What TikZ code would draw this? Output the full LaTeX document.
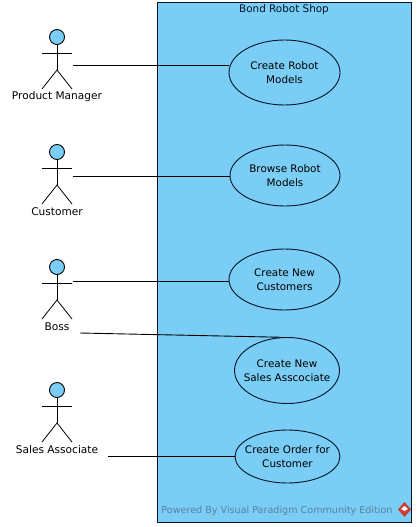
\documentclass[tikz,border=0pt]{standalone}
\usepackage{xcolor}
\usepackage{fontspec}
\setmainfont{DejaVu Sans}
\usetikzlibrary{positioning,shapes.geometric}
\definecolor{shopblue}{RGB}{122,205,245}
\definecolor{shopline}{RGB}{4,20,40}
\definecolor{wmgray}{RGB}{90,130,158}
\definecolor{logored}{RGB}{200,60,50}
\tikzset{
  usecase/.style={draw=shopline, line width=0.9pt, ellipse, fill=shopblue, inner sep=0pt, align=center, font=\fontsize{10.4}{14}\selectfont},
  actorlabel/.style={font=\fontsize{10.6}{12}\selectfont, inner sep=0pt},
  assoc/.style={draw=black, line width=0.9pt},
}
\begin{document}
\begin{tikzpicture}[x=1pt,y=-1pt]
  \useasboundingbox (0,0) rectangle (416,527);
  \fill[white] (0,0) rectangle (416,527);
  \draw[shopline, line width=0.9pt, fill=shopblue] (157.5,2.5) rectangle (411,522);
  \node[inner sep=0pt, font=\fontsize{10.4}{12}\selectfont, text=shopline] (shop) at (284,10) {Bond Robot Shop};
  \node[inner sep=0pt, font=\fontsize{9.6}{12}\selectfont, text=wmgray] (powered) at (277,511) {Powered By Visual Paradigm Community Edition};

  % logo
  \fill[logored] (404.5,502) -- (411,509.5) -- (404.5,517) -- (398,509.5) -- cycle;
  \fill[white] (404.5,506) -- (408,509) -- (404.5,511) -- (401,509) -- cycle;

  % use cases
  \node[usecase, minimum width=111pt, minimum height=65pt] (models) at (284.5,72.5) {Create Robot\\Models};
  \node[usecase, minimum width=110pt, minimum height=61pt] (browse) at (285,175.5) {Browse Robot\\Models};
  \node[usecase, minimum width=111pt, minimum height=61pt] (customers) at (284.5,279.5) {Create New\\Customers};
  \node[usecase, inner xsep=-14pt, minimum width=105pt, minimum height=66pt] (sales) at (287,370.5) {Create New\\Sales Asscociate};
  \node[usecase, inner xsep=-14pt, minimum width=105pt, minimum height=53pt] (order) at (287.5,456.5) {Create Order for\\Customer};

  % actors
  \foreach \name/\y/\label/\ly in {pm/0/Product Manager/97, cust/115/Customer/212, boss/230/Boss/327, assoc/353/Sales Associate/450}
  {
    \node[draw=black, line width=0.9pt, circle, fill=shopblue, minimum size=15pt, inner sep=0pt] (\name head) at (57,37+\y) {};
    \coordinate (\name hip) at (57,70+\y);
    \coordinate (\name neck) at (57,53+\y);
    \coordinate (\name lhand) at (42,53+\y);
    \coordinate (\name rhand) at (72,53+\y);
    \coordinate (\name lfoot) at (42,89+\y);
    \coordinate (\name rfoot) at (72,89+\y);
    \draw[line width=0.8pt] (\name head) -- (\name hip);
    \draw[line width=0.8pt] (\name lhand) -- (\name rhand);
    \draw[line width=0.8pt] (\name lfoot) -- (\name hip) -- (\name rfoot);
    \node[actorlabel] (\name label) at (57,\ly) {\label};
  }

  % connectors
  \coordinate (pmend) at (72.5,65);
  \coordinate (custend) at (72.5,176);
  \coordinate (bossend) at (72.5,281);
  \coordinate (bosslow) at (80,333);
  \coordinate (assocend) at (108,456);
  \draw[assoc] (pmend) -- (models.west |- pmend);
  \draw[assoc] (custend) -- (browse.west |- custend);
  \draw[assoc] (bossend) -- (customers.west |- bossend);
  \draw[assoc] (bosslow) -- (sales.100);
  \draw[assoc] (assocend) -- (order.west |- assocend);
\end{tikzpicture}
\end{document}
